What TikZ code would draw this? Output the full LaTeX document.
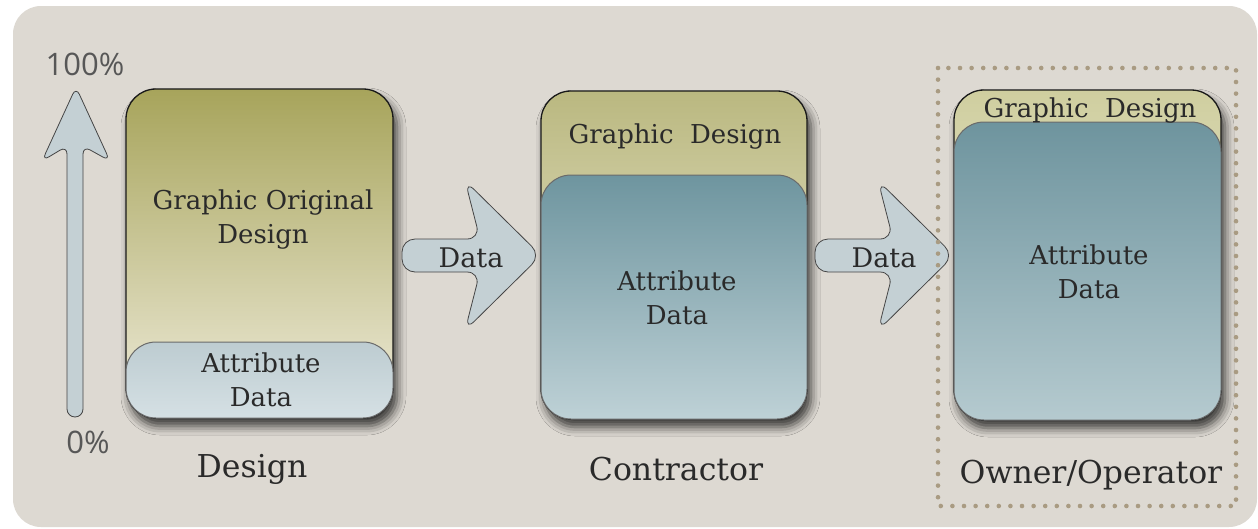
\documentclass[tikz,border=0pt]{standalone}
\usepackage{fontspec}
\setmainfont{DejaVu Serif}
\newfontfamily\pctfont{Open Sans}
\usetikzlibrary{shadows.blur}
\definecolor{bg}{HTML}{DDD9D2}
\definecolor{txt}{HTML}{2A2A2A}
\definecolor{pct}{HTML}{575757}
\definecolor{arrowfill}{HTML}{C4D0D4}
\definecolor{arrowline}{HTML}{454545}
\definecolor{dotcol}{HTML}{A99B82}
\definecolor{attrline}{HTML}{6A6A6A}
\definecolor{oneTop}{HTML}{A7A45B}
\definecolor{oneBot}{HTML}{EFECDB}
\definecolor{oneAttrTop}{HTML}{BDCCD1}
\definecolor{oneAttrBot}{HTML}{D5E0E4}
\definecolor{twoTop}{HTML}{BAB880}
\definecolor{twoBot}{HTML}{F0EEDA}
\definecolor{twoAttrTop}{HTML}{6E959F}
\definecolor{twoAttrBot}{HTML}{BED1D6}
\definecolor{threeTop}{HTML}{CFCE9F}
\definecolor{threeBot}{HTML}{F5F4E5}
\definecolor{threeAttrTop}{HTML}{6E949E}
\definecolor{threeAttrMid}{HTML}{759BA4}
\definecolor{threeAttrBot}{HTML}{B5CACF}
\tikzset{
  outerbox/.style={draw=black!90, line width=1.3pt, rounded corners=30pt, inner sep=0pt,
    blur shadow={shadow xshift=4pt, shadow yshift=-8pt, shadow blur radius=9pt, shadow opacity=75}},
  attrbox/.style={draw=attrline, line width=1pt, rounded corners=30pt, inner sep=0pt},
  boxtext/.style={font=\fontsize{26}{34}\selectfont, align=center, inner sep=0pt, text=txt},
  labeltext/.style={font=\fontsize{31.5}{36}\selectfont, inner sep=0pt, text=txt, anchor=base},
  datatext/.style={font=\fontsize{27}{30}\selectfont, inner sep=0pt, text=txt, anchor=base},
  pcttext/.style={font=\pctfont\fontsize{31}{34}\selectfont, inner sep=0pt, text=pct, anchor=base},
  blockarrow/.style={fill=arrowfill, draw=arrowline, line width=0.8pt},
  dotbox/.style={draw=dotcol, line width=4.6pt, line cap=round, dash pattern=on 0pt off 11.6pt},
  dataarrow/.pic={
    \path[blockarrow, rounded corners=13pt] (0,-16.5) -- (78,-16.5) -- (63,-75) -- (139,0)
      -- (63,75) -- (78,16.5) -- (0,16.5) -- cycle;
  }
}
\begin{document}
\begin{tikzpicture}[x=1pt,y=-1pt]
\useasboundingbox (0,0) rectangle (1258,528);
\fill[white] (0,0) rectangle (1258,528);
\fill[bg, rounded corners=28pt] (13,6) rectangle (1257,527);

% vertical scale arrow
\path[blockarrow, rounded corners=8pt] (67,300) -- (67,146) -- (42,161) -- (76,87) -- (110,161)
  -- (83,146) -- (83,417) -- (67,417) -- cycle;
\node[pcttext] (p100) at (85,75) {100\%};
\node[pcttext] (p0) at (88,453) {0\%};

% Box 1 : Design
\node[outerbox, minimum width=267pt, minimum height=329pt,
      top color=oneTop, bottom color=oneBot] (b1) at (259.5,253.5) {};
\node[attrbox, minimum width=267pt, minimum height=76pt,
      top color=oneAttrTop, bottom color=oneAttrBot] (a1) at (259.5,380) {};
\node[boxtext, anchor=north] (t1) at (263,185.2) {\strut Graphic Original\\\strut Design};
\node[boxtext, anchor=north] (t1a) at (261,348.2) {\strut Attribute\\\strut Data};
\node[labeltext] (l1) at (252,477) {Design};

% Box 2 : Contractor
\node[outerbox, minimum width=266pt, minimum height=328pt,
      top color=twoTop, bottom color=twoBot] (b2) at (674,255) {};
\node[attrbox, minimum width=266pt, minimum height=244pt,
      top color=twoAttrTop, bottom color=twoAttrBot] (a2) at (674,297) {};
\node[boxtext, anchor=base] (t2) at (675,143) {Graphic\ \ Design};
\node[boxtext, anchor=north] (t2a) at (677,266.2) {\strut Attribute\\\strut Data};
\node[labeltext] (l2) at (676,480) {Contractor};

% Box 3 : Owner/Operator
\node[outerbox, minimum width=267pt, minimum height=330pt,
      top color=threeTop, bottom color=threeBot] (b3) at (1087.5,255) {};
\node[attrbox, minimum width=267pt, minimum height=298pt,
      top color=threeAttrTop, middle color=threeAttrMid, bottom color=threeAttrBot] (a3) at (1087.5,271) {};
\node[boxtext, anchor=base] (t3) at (1090,117) {Graphic\ \ Design};
\node[boxtext, anchor=north] (t3a) at (1089,240.2) {\strut Attribute\\\strut Data};
\node[labeltext] (l3) at (1091,483) {Owner/Operator};

% Data arrows
\pic at (402,255.5) {dataarrow};
\node[datatext] (d1) at (471,267) {Data};
\pic at (815,255.5) {dataarrow};
\node[datatext] (d2) at (884,267) {Data};

% dotted frame
\draw[dotbox] (938,68) rectangle (1236,506);
\end{tikzpicture}
\end{document}
